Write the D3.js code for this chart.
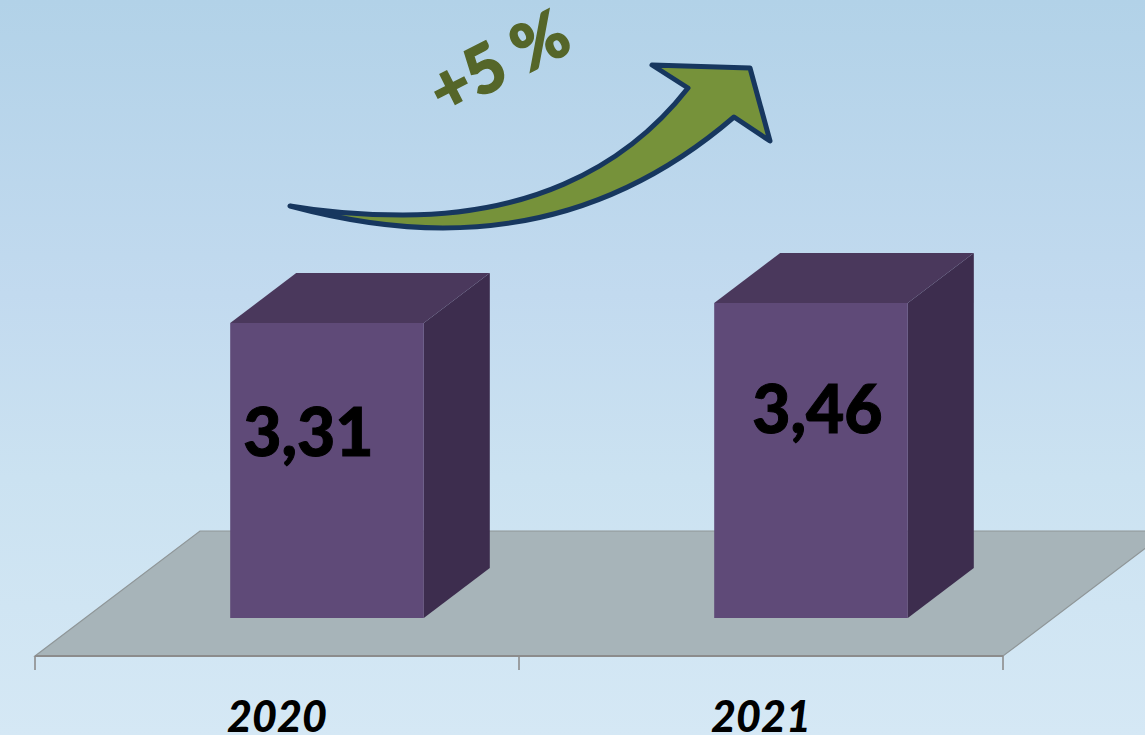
<!DOCTYPE html>
<html><head><meta charset="utf-8">
<script src="https://cdn.jsdelivr.net/npm/d3@7"></script>
<style>html,body{margin:0;padding:0;overflow:hidden}svg{display:block}text{font-family:Lato,"Open Sans",sans-serif}</style>
</head><body>
<script>
const categories = ["2020", "2021"];
const values = [3.31, 3.46];
const valueLabels = ["3,31", "3,46"];
const changeLabel = "+5 %";

const W = 1145, H = 735;
const svg = d3.select("body").append("svg").attr("width", W).attr("height", H);
const defs = svg.append("defs");
const g = defs.append("linearGradient").attr("id","bg").attr("x1",0).attr("y1",0).attr("x2",0).attr("y2",1);
[[0,"#b2d2e8"],[0.4,"#c2daef"],[0.65,"#cbe2f1"],[1,"#d5e8f5"]].forEach(s=>g.append("stop").attr("offset",s[0]).attr("stop-color",s[1]));
svg.append("rect").attr("width",W).attr("height",H).attr("fill","url(#bg)");

const x = d3.scaleBand().domain(categories).range([35,1003]).paddingInner(0.6).paddingOuter(0.3);
const step = x.step();
const y = d3.scaleLinear().domain([1.0975,3.46]).range([618,303]);
const floorY = 656, floorDx = 165, floorDy = -125, barDx = 66, barDy = -50, shift = 50;

// floor
svg.append("path").attr("d",`M35,${floorY}L${35+floorDx},${floorY+floorDy}L${1003+floorDx},${floorY+floorDy}L1003,${floorY}Z`)
  .attr("fill","#a7b4b9").attr("stroke","#8f9698").attr("stroke-width",1.2);
const axisG = svg.append("g").attr("transform",`translate(0,${floorY})`);
axisG.append("line").attr("x1",35).attr("x2",1003).attr("stroke","#8c8c8c").attr("stroke-width",2);
d3.range(3).forEach(i=>axisG.append("line").attr("x1",35+i*step).attr("x2",35+i*step).attr("y1",0).attr("y2",14).attr("stroke","#8c8c8c").attr("stroke-width",1.6));

// bars
categories.forEach((c,i)=>{
  const x0 = x(c)+shift, x1 = x0+x.bandwidth(), y0 = y.range()[0], yt = y(values[i]);
  const b = svg.append("g");
  b.append("path").attr("d",`M${x1},${y0}L${x1+barDx},${y0+barDy}L${x1+barDx},${yt+barDy}L${x1},${yt}Z`).attr("fill","#3d2d4e");
  b.append("path").attr("d",`M${x0},${yt}L${x0+barDx},${yt+barDy}L${x1+barDx},${yt+barDy}L${x1},${yt}Z`).attr("fill","#4a385c");
  b.append("rect").attr("x",x0).attr("y",yt).attr("width",x1-x0).attr("height",y0-yt).attr("fill","#5f4a78");
});

// value labels
const labelDx = [13, 38], labelY = [456, 433];
categories.forEach((c,i)=>{
  svg.append("text").attr("x",x(c)+shift+labelDx[i]).attr("y",labelY[i])
    .attr("font-size",66).attr("font-weight",900).attr("fill","#000").attr("stroke","#000").attr("stroke-width",1).text(valueLabels[i]);
  svg.append("text").attr("x",x(c)+x.bandwidth()/2).attr("y",732).attr("text-anchor","middle")
    .attr("font-size",43).attr("font-weight",900).attr("font-style","italic").attr("fill","#000").text(c);
});

// arrow
const arrowD = "M290,206C330,213 365,215 403,215C520,215 620,175 688,88L652,65L750,68L770,141L734,117C655,185 560,228 443,228C385,228 335,218 290,206Z";
svg.append("path").attr("d",arrowD).attr("fill","#76923a").attr("stroke","#17375f").attr("stroke-width",5).attr("stroke-linejoin","round").attr("stroke-linecap","round");

svg.append("text").attr("transform","translate(444,116) rotate(-27)")
  .attr("font-size",66).attr("font-weight",900).attr("fill","#556629").attr("stroke","#556629").attr("stroke-width",1.5).text(changeLabel);
</script>
</body></html>
